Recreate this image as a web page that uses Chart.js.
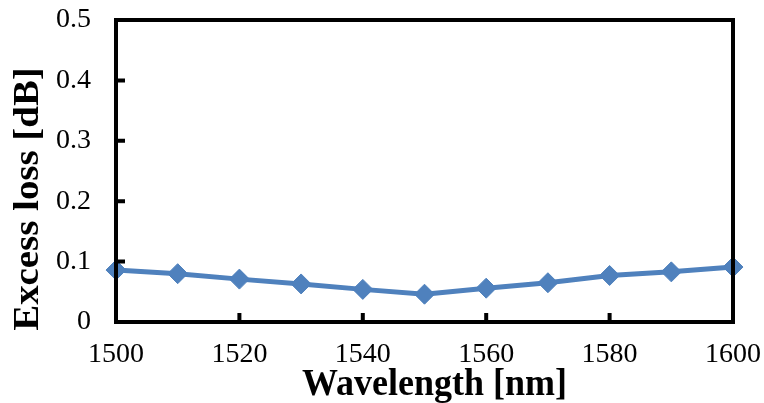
<!DOCTYPE html>
<html>
<head>
<meta charset="utf-8">
<script src="https://cdn.jsdelivr.net/npm/chart.js@4/dist/chart.umd.min.js"></script>
<style>
  html, body { margin: 0; padding: 0; background: #fff; }
  #wrap { width: 764px; height: 403px; }
</style>
</head>
<body>
<div id="wrap"><canvas id="c" width="764" height="403"></canvas></div>
<script>
// Wavelength sweep (nm) and measured excess loss (dB)
const wavelengths = [1500, 1510, 1520, 1530, 1540, 1550, 1560, 1570, 1580, 1590, 1600];
const excessLoss  = [0.086, 0.080, 0.071, 0.063, 0.054, 0.046, 0.056, 0.065, 0.077, 0.083, 0.091];

// Axis tick labels and titles
const xTickLabels = ['1500', '1520', '1540', '1560', '1580', '1600'];
const yTickLabels = ['0', '0.1', '0.2', '0.3', '0.4', '0.5'];
const xTitle = 'Wavelength [nm]';
const yTitle = 'Excess loss [dB]';

const points = wavelengths.map((w, i) => ({ x: w, y: excessLoss[i] }));

const serif = '"Liberation Serif", "Times New Roman", serif';

// Frame around the plot area with short inward tick marks, plus axis titles
const framePlugin = {
  id: 'frame',
  afterDatasetsDraw(chart) {
    const { ctx, chartArea: a, scales } = chart;
    ctx.save();
    ctx.strokeStyle = '#000';
    ctx.lineWidth = 4;
    ctx.lineCap = 'butt';
    ctx.beginPath();
    scales.y.ticks.forEach(t => {
      if (t.value <= 0 || t.value >= 0.5) return;
      const py = scales.y.getPixelForValue(t.value);
      ctx.moveTo(a.left, py);
      ctx.lineTo(a.left + 9, py);
    });
    scales.x.ticks.forEach(t => {
      if (t.value <= 1500 || t.value >= 1600) return;
      const px = scales.x.getPixelForValue(t.value);
      ctx.moveTo(px, a.bottom);
      ctx.lineTo(px, a.bottom - 9);
    });
    ctx.stroke();
    ctx.lineJoin = 'miter';
    ctx.strokeRect(a.left, a.top, a.right - a.left, a.bottom - a.top);

    // Axis titles (bold serif, slightly tall)
    ctx.fillStyle = '#000';
    ctx.font = 'bold 36px ' + serif;
    ctx.textAlign = 'center';
    ctx.textBaseline = 'alphabetic';

    ctx.save();
    ctx.translate((a.left + a.right) / 2 + 10, 395);
    ctx.scale(1, 1.08);
    ctx.fillText(xTitle, 0, 0);
    ctx.restore();

    ctx.save();
    ctx.translate(38, 199);
    ctx.rotate(-Math.PI / 2);
    ctx.scale(1.08, 1);
    ctx.fillText(yTitle, 0, 0);
    ctx.restore();

    ctx.restore();
  }
};

const tickFont = { family: serif, size: 28 };

// Drop the automatic label overhang so the layout padding alone places the plot area
function noOverhang(s) {
  s.paddingLeft = 0; s.paddingRight = 0; s.paddingTop = 0; s.paddingBottom = 0;
}

new Chart(document.getElementById('c'), {
  type: 'line',
  data: {
    datasets: [{
      data: points,
      borderColor: '#4F81BD',
      backgroundColor: '#4F81BD',
      borderWidth: 5,
      pointStyle: 'rectRot',
      pointRadius: 10,
      pointHoverRadius: 10,
      pointBackgroundColor: '#4F81BD',
      pointBorderColor: '#4F81BD',
      pointBorderWidth: 1,
      tension: 0,
      clip: false
    }]
  },
  options: {
    responsive: false,
    animation: false,
    events: [],
    layout: { padding: { top: 20, right: 31, left: 0, bottom: 0 } },
    plugins: { legend: { display: false }, tooltip: { enabled: false } },
    scales: {
      x: {
        type: 'linear',
        min: 1500, max: 1600,
        grid: { display: false, drawTicks: false },
        border: { display: false },
        ticks: {
          stepSize: 20,
          color: '#000',
          font: tickFont,
          padding: 16,
          maxRotation: 0,
          callback: (v) => xTickLabels[Math.round((v - 1500) / 20)]
        },
        title: { display: false },
        afterFit(s) { s.height = 81; noOverhang(s); }
      },
      y: {
        type: 'linear',
        min: 0, max: 0.5,
        grid: { display: false, drawTicks: false },
        border: { display: false },
        ticks: {
          stepSize: 0.1,
          color: '#000',
          font: tickFont,
          padding: 25,
          callback: (v) => yTickLabels[Math.round(v * 10)]
        },
        title: { display: false },
        afterFit(s) { s.width = 116; noOverhang(s); }
      }
    }
  },
  plugins: [framePlugin]
});
</script>
</body>
</html>
